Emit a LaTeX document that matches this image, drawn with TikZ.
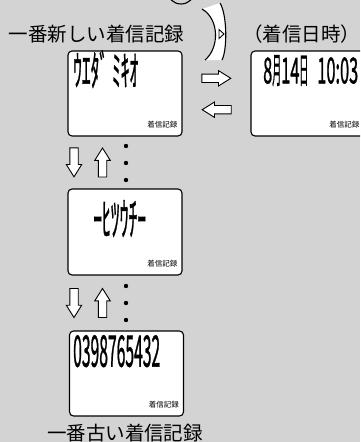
\documentclass[tikz,border=0pt]{standalone}
\usepackage{fontspec}
\usepackage{graphicx}
\newfontfamily\jpfont{Noto Sans CJK JP}
\newfontfamily\lcdfont[FakeBold=1.3]{Noto Sans CJK JP}
\usetikzlibrary{positioning}
\definecolor{panelgray}{RGB}{211,211,211}
\newcommand{\narrow}[1]{\scalebox{0.55}[1]{#1}}

\begin{document}
\begin{tikzpicture}[x=1pt, y=-1pt,
    screen/.style={draw, rounded corners=4pt, fill=white, line width=1.1pt, minimum width=114pt, minimum height=85pt, inner sep=0pt},
    lcd/.style={anchor=north west, inner sep=0pt, font=\lcdfont},
    tag/.style={anchor=east, inner sep=0pt, font=\jpfont\fontsize{7.5}{8}\selectfont},
    caption/.style={inner sep=0pt, font=\jpfont\fontsize{19.5}{20}\selectfont},
    dot/.style={circle, fill=black, inner sep=0pt, minimum size=4.4pt},
    hollowarrow/.pic={
      \draw[fill=white, line width=0.9pt, line join=miter]
        (-14.5,-4.2) -- (2.2,-4.2) -- (2.2,-7.7) -- (14.5,0) -- (2.2,7.7) -- (2.2,4.2) -- (-14.5,4.2) -- cycle;
    }
  ]
  \useasboundingbox (0,0) rectangle (360,442);
  \fill[panelgray] (0,0) rectangle (360,442);
  \clip (0,0) rectangle (360,442);

  % jog dial
  \draw[line width=1.1pt] (181,-10) circle (14);
  \fill[white] (202,9) .. controls (219.5,19) and (219.5,48) .. (205,60) -- (222,60) .. controls (227.3,50) and (227.3,15) .. (220,3) -- cycle;
  \draw[line width=1.1pt] (202,9) .. controls (219.5,19) and (219.5,48) .. (205,60);
  \draw[line width=1.1pt] (220,3) .. controls (227.3,15) and (227.3,50) .. (222,60);
  \draw[line width=0.9pt, line join=miter] (219,29.5) -- (224,34) -- (219,38.5) -- cycle;

  % captions
  \node[caption] (newlabel) at (96.5,34) {一番新しい着信記録};
  \node[caption] (timelabel) at (301.5,34) {（着信日時）};
  \node[caption] (oldlabel) at (125,433) {一番古い着信記録};

  % screens
  \node[screen] (newest) at (125,93.5) {};
  \node[screen] (datetime) at (308,93.5) {};
  \node[screen, minimum height=86pt] (middle) at (125,232) {};
  \node[screen] (oldest) at (126.5,373.5) {};

  \node[lcd] (name) at (73,50) {\resizebox*{65pt}{38pt}{ｳｴﾀﾞ ﾐｷｵ}};
  \node[lcd] (stamp) at (263,55) {\resizebox*{95pt}{31pt}{8\narrow{月}14\narrow{日}\hspace{0.55em}10:03}};
  \node[lcd] (hidden) at (93,200) {\resizebox*{53pt}{37pt}{ｰﾋﾂｳﾁｰ}};
  \node[lcd] (number) at (73,335) {\resizebox*{87pt}{32pt}{0398765432}};

  \node[tag] (tagnewest) at ([xshift=-5pt, yshift=12pt]newest.south east) {着信記録};
  \node[tag] (tagdatetime) at ([xshift=-6pt, yshift=12pt]datetime.south east) {着信記録};
  \node[tag] (tagmiddle) at ([xshift=-5pt, yshift=12pt]middle.south east) {着信記録};
  \node[tag] (tagoldest) at ([xshift=-5pt, yshift=12pt]oldest.south east) {着信記録};

  % arrows
  \pic at (216.3,78.3) {hollowarrow};
  \pic[rotate=180] at (216.7,109.7) {hollowarrow};
  \pic[rotate=270] at (74,162.3) {hollowarrow};
  \pic[rotate=90] at (102.5,162.5) {hollowarrow};
  \pic[rotate=270] at (74,303) {hollowarrow};
  \pic[rotate=90] at (102.5,303) {hollowarrow};

  \foreach \y in {146,163,180,286,303,320}
    \node[dot] (dot\y) at (126,\y) {};
\end{tikzpicture}
\end{document}
